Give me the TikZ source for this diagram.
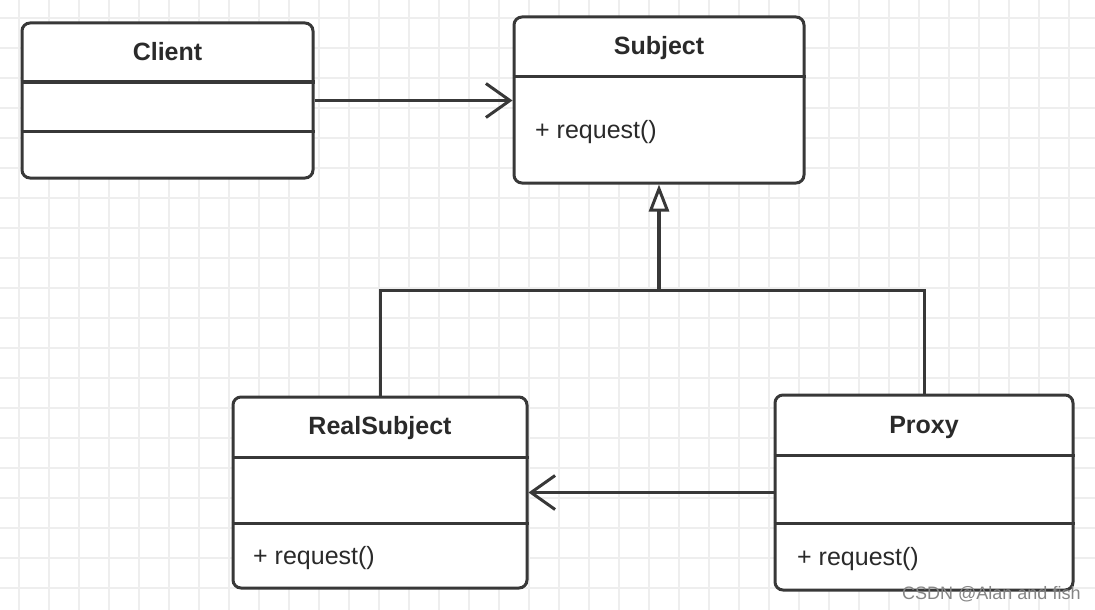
\documentclass[tikz,border=0pt]{standalone}
\usepackage{fontspec}
\setmainfont{Liberation Sans}
\usetikzlibrary{arrows.meta}
\definecolor{umlline}{HTML}{383838}
\definecolor{umltext}{HTML}{2A2A2A}
\definecolor{gridgray}{HTML}{EEEEEE}
\definecolor{markgray}{HTML}{858585}
\begin{document}
\begin{tikzpicture}[x=1pt, y=-1pt]
\tikzstyle{every node}=[inner sep=0pt, text=umltext, font=\fontsize{25}{30}\selectfont];
\tikzstyle{cls}=[draw=umlline, line width=3pt, fill=white, rounded corners=8pt];
\tikzstyle{part}=[draw=umlline, line width=3pt];
\tikzstyle{conn}=[draw=umlline, line width=3pt];
\tikzstyle{title}=[anchor=base, font=\fontsize{25}{30}\selectfont\bfseries];
\tikzstyle{op}=[anchor=base west];
\useasboundingbox (0,0) rectangle (1095,610);
\foreach \gx in {19,49,...,1095} \draw[gridgray, line width=1.5pt] (\gx,0) -- (\gx,610);
\foreach \gy in {18,48,...,610} \draw[gridgray, line width=1.5pt] (0,\gy) -- (1095,\gy);
\node [cls, minimum width=291pt, minimum height=155pt] (client) at (167.5, 100.5) {};
\node [cls, minimum width=290pt, minimum height=166pt] (subject) at (659, 100) {};
\node [cls, minimum width=294pt, minimum height=191pt] (real) at (380, 492.5) {};
\node [cls, minimum width=298pt, minimum height=195pt] (proxy) at (924, 492.5) {};
\node [title] (clientname) at (167.5, 61) {Client};
\node [title] (subjectname) at (659, 55) {Subject};
\node [title] (realname) at (380, 434) {RealSubject};
\node [title] (proxyname) at (924, 433) {Proxy};
\node [op] (subjectop) at (535, 138) {+ request()};
\node [op] (realop) at (253, 564) {+ request()};
\node [op] (proxyop) at (797, 565) {+ request()};
\draw [part] (client.west |- 0,82) -- (client.east |- 0,82)
(client.west |- 0,131) -- (client.east |- 0,131)
(subject.west |- 0,77) -- (subject.east |- 0,77)
(real.west |- 0,457) -- (real.east |- 0,457)
(real.west |- 0,523) -- (real.east |- 0,523)
(proxy.west |- 0,455) -- (proxy.east |- 0,455)
(proxy.west |- 0,523) -- (proxy.east |- 0,523);
\coordinate (bus) at (659, 290);
\draw [conn, -{Straight Barb[length=24pt, width=34pt]}] (client.east) -- (client.east -| subject.west);
\draw [conn, -{Straight Barb[length=24pt, width=34pt]}] (proxy.west) -- (proxy.west -| real.east);
\draw [conn] (real.north) |- (bus) -| (proxy.north);
\draw [conn, line width=3.5pt, -{Triangle[length=27pt, width=20pt, fill=white, line width=3pt]}] (bus) -- (subject.south);
\node [anchor=base west, text=markgray, font=\fontsize{18}{20}\selectfont] (mark) at (902, 599.5) {CSDN @Alan and fish};
\end{tikzpicture}
\end{document}
